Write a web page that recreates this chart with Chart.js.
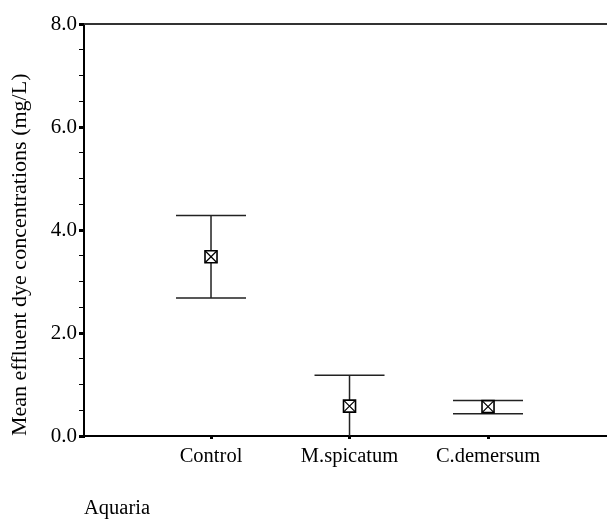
<!DOCTYPE html>
<html>
<head>
<meta charset="utf-8">
<script src="https://cdn.jsdelivr.net/npm/chart.js"></script>
<style>
  body { margin: 0; background: #fff; }
  #chart { display: block; }
</style>
</head>
<body>
<canvas id="chart" width="607" height="521"></canvas>
<script>
// Datos del gráfico
const groups = ['Control', 'M.spicatum', 'C.demersum'];
const means = [3.48, 0.58, 0.57];
const lower = [2.68, 0.0, 0.43];
const upper = [4.28, 1.18, 0.69];

const SERIF = '"Liberation Serif", "Times New Roman", serif';

// Barras de error con sus tapas
const errorBars = {
    id: 'errorBars',
    beforeDatasetsDraw(chart) {
        const ctx = chart.ctx;
        const xs = chart.scales.x, ys = chart.scales.y;
        const area = chart.chartArea;
        ctx.save();
        ctx.beginPath();
        ctx.rect(area.left, area.top, area.right - area.left, area.bottom - area.top);
        ctx.clip();
        ctx.strokeStyle = '#222';
        ctx.lineWidth = 1.5;
        groups.forEach((g, i) => {
            const px = xs.getPixelForValue(i + 1);
            const lo = ys.getPixelForValue(lower[i]);
            const hi = ys.getPixelForValue(upper[i]);
            ctx.beginPath();
            ctx.moveTo(px, lo);
            ctx.lineTo(px, hi);
            ctx.moveTo(px - 35, hi);
            ctx.lineTo(px + 35, hi);
            if (lower[i] > 0) {
                ctx.moveTo(px - 35, lo);
                ctx.lineTo(px + 35, lo);
            }
            ctx.stroke();
        });
        ctx.restore();
    }
};

// Línea superior del marco
const topLine = {
    id: 'topLine',
    afterDraw(chart) {
        const ctx = chart.ctx;
        const a = chart.chartArea;
        ctx.save();
        ctx.strokeStyle = '#333';
        ctx.lineWidth = 2;
        ctx.beginPath();
        ctx.moveTo(a.left, a.top);
        ctx.lineTo(chart.width, a.top);
        ctx.stroke();
        ctx.restore();
    }
};

const points = groups.map((g, i) => ({ x: i + 1, y: means[i] }));

new Chart(document.getElementById('chart'), {
    type: 'scatter',
    data: {
        datasets: [
            // la cruz va primero para quedar encima del cuadro
            {
                data: points,
                pointStyle: 'crossRot',
                pointRadius: 8.5,
                pointBorderColor: '#000',
                pointBorderWidth: 1.2,
                clip: false
            },
            {
                data: points,
                pointStyle: 'rect',
                pointRadius: 8.5,
                pointBackgroundColor: '#fff',
                pointBorderColor: '#000',
                pointBorderWidth: 1.6,
                clip: false
            }
        ]
    },
    options: {
        responsive: false,
        animation: false,
        events: [],
        layout: {
            autoPadding: false,
            padding: { top: 24, right: 0, bottom: 0, left: 0 }
        },
        plugins: {
            legend: { display: false },
            tooltip: { enabled: false }
        },
        scales: {
            x: {
                type: 'linear',
                min: 0.083,
                max: 3.859,
                afterBuildTicks: (scale) => {
                    scale.ticks = groups.map((g, i) => ({ value: i + 1 }));
                },
                afterFit: (scale) => {
                    scale.height = 85;
                    scale.paddingRight = 0;
                    scale.paddingLeft = 0;
                },
                ticks: {
                    color: '#000',
                    font: { family: SERIF, size: 20.5 },
                    padding: 5,
                    autoSkip: false,
                    maxRotation: 0,
                    callback: (v) => groups[v - 1] || ''
                },
                grid: {
                    drawOnChartArea: false,
                    drawTicks: true,
                    tickLength: 3,
                    lineWidth: 3,
                    color: '#000'
                },
                border: { display: true, color: '#000', width: 2 },
                title: {
                    display: true,
                    text: 'Aquaria',
                    align: 'start',
                    color: '#000',
                    font: { family: SERIF, size: 20.5 },
                    padding: { top: 24, bottom: 0 }
                }
            },
            y: {
                min: 0,
                max: 8,
                afterFit: (scale) => { scale.width = 84; },
                ticks: {
                    stepSize: 0.5,
                    autoSkip: false,
                    color: '#000',
                    font: { family: SERIF, size: 21 },
                    padding: 2,
                    callback: (v) => (v % 2 === 0 ? v.toFixed(1) : '')
                },
                grid: {
                    drawOnChartArea: false,
                    drawTicks: true,
                    tickLength: 5,
                    lineWidth: (c) => (c.tick && c.tick.value % 2 === 0 ? 3 : 1),
                    color: '#000'
                },
                border: { display: true, color: '#000', width: 2 },
                title: {
                    display: true,
                    text: 'Mean effluent dye concentrations (mg/L)',
                    align: 'start',
                    color: '#000',
                    font: { family: SERIF, size: 22 },
                    padding: { top: 7, bottom: 0 }
                }
            }
        }
    },
    plugins: [errorBars, topLine]
});
</script>
</body>
</html>
